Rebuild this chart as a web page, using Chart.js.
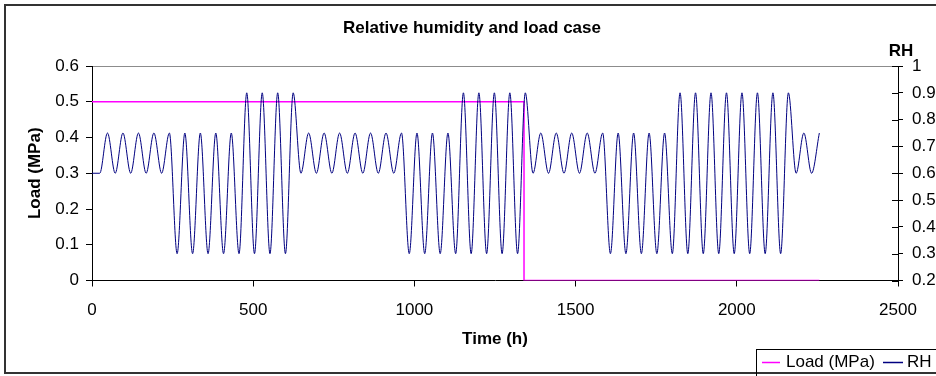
<!DOCTYPE html>
<html>
<head>
<meta charset="utf-8">
<title>Relative humidity and load case</title>
<script src="https://cdn.jsdelivr.net/npm/chart.js@4.4.1/dist/chart.umd.min.js"></script>
<style>
  html, body { margin: 0; padding: 0; background: #fff; }
  #wrap { width: 936px; height: 376px; position: relative; }
</style>
</head>
<body>
<div id="wrap"><canvas id="rhChart"></canvas></div>
<script>
; (function () {
    'use strict'

    // ── Data ───────────────────────────────────────────────────────────────────
    // Load step: 0.5 MPa until ~1340 h, then unloaded
    const loadTime = [0, 1340, 1340, 2256]
    const loadValue = [0.5, 0.5, 0, 0]

    // RH turning points (peaks / troughs of the humidity cycles)
    const rhTime = [
        0, 24, 48, 72, 96, 120, 144, 168, 192, 216, 240,
        264, 288, 312, 336, 360, 384, 408, 432, 456, 480, 504, 528, 552, 576, 600, 624,
        648, 672, 696, 720, 744, 768, 792, 816, 840, 864, 888, 912, 936, 960,
        984, 1008, 1032, 1056, 1080, 1104, 1128, 1152, 1176, 1200, 1224, 1248, 1272, 1296, 1320, 1344,
        1368, 1392, 1416, 1440, 1464, 1488, 1512, 1536, 1560, 1584,
        1608, 1632, 1656, 1680, 1704, 1728, 1752, 1776, 1800, 1824, 1848, 1872, 1896, 1920,
        1944, 1968, 1992, 2016, 2040, 2064, 2088, 2112, 2136, 2160,
        2184, 2208, 2232, 2256
    ]
    const rhValue = [
        0.6, 0.6, 0.75, 0.6, 0.75, 0.6, 0.75, 0.6, 0.75, 0.6, 0.75,
        0.3, 0.75, 0.3, 0.75, 0.3, 0.75, 0.3, 0.75, 0.3, 0.9, 0.3, 0.9, 0.3, 0.9, 0.3, 0.9,
        0.6, 0.75, 0.6, 0.75, 0.6, 0.75, 0.6, 0.75, 0.6, 0.75, 0.6, 0.75, 0.6, 0.75,
        0.3, 0.75, 0.3, 0.75, 0.3, 0.75, 0.3, 0.9, 0.3, 0.9, 0.3, 0.9, 0.3, 0.9, 0.3, 0.9,
        0.6, 0.75, 0.6, 0.75, 0.6, 0.75, 0.6, 0.75, 0.6, 0.75,
        0.3, 0.75, 0.3, 0.75, 0.3, 0.75, 0.3, 0.75, 0.3, 0.9, 0.3, 0.9, 0.3, 0.9,
        0.3, 0.9, 0.3, 0.9, 0.3, 0.9, 0.3, 0.9, 0.3, 0.9,
        0.6, 0.75, 0.6, 0.75
    ]

    const xTicks = [0, 500, 1000, 1500, 2000, 2500]

    // ── Look ───────────────────────────────────────────────────────────────────
    const FONT = 'Liberation Sans, Arial, sans-serif'
    const LOAD_COLOR = '#ff00ff'
    const RH_COLOR = '#000080'

    const toXY = (xs, ys) => xs.map((x, i) => ({ x, y: ys[i] }))
    const fmt = v => String(+Number(v).toFixed(1))

    // ── Extras Chart.js doesn't do out of the box (Excel look) ─────────────────
    const excelDecor = {
        id: 'excelDecor',
        beforeDraw(chart) {
            const { ctx, chartArea: a } = chart
            ctx.save()
            ctx.fillStyle = '#fff'
            ctx.fillRect(0, 0, chart.width, chart.height)
            // grey plot-area frame (top edge is the only part left visible)
            ctx.strokeStyle = '#8c8c8c'
            ctx.lineWidth = 1
            ctx.beginPath()
            ctx.moveTo(a.left, Math.round(a.top) + 0.5)
            ctx.lineTo(a.right, Math.round(a.top) + 0.5)
            ctx.stroke()
            ctx.restore()
        },
        afterDraw(chart) {
            const { ctx, chartArea: a } = chart
            const y1 = chart.scales.y1
            ctx.save()

            // right axis: cross-type tick marks, inner half
            ctx.strokeStyle = '#000'
            ctx.lineWidth = 1
            y1.ticks.forEach(t => {
                const py = Math.round(y1.getPixelForValue(t.value)) + 0.5
                ctx.beginPath()
                ctx.moveTo(a.right - 6, py)
                ctx.lineTo(a.right, py)
                ctx.stroke()
            })

            // title
            ctx.fillStyle = '#000'
            ctx.textAlign = 'center'
            ctx.textBaseline = 'middle'
            ctx.font = `bold 17px ${FONT}`
            ctx.fillText('Relative humidity and load case', 472, 28)

            // secondary axis title
            ctx.fillText('RH', 901, 51)

            // outer chart border
            ctx.strokeStyle = '#333'
            ctx.lineWidth = 2
            ctx.strokeRect(5, 5, 940, 368)

            // legend box
            ctx.strokeStyle = '#000'
            ctx.lineWidth = 1
            ctx.strokeRect(756.5, 349.5, 200, 30)
            ctx.font = `17px ${FONT}`
            ctx.textAlign = 'left'
            const ly = 362
            ctx.lineWidth = 1.5
            ctx.strokeStyle = LOAD_COLOR
            ctx.beginPath(); ctx.moveTo(762, ly + 0.5); ctx.lineTo(780, ly + 0.5); ctx.stroke()
            ctx.fillText('Load (MPa)', 786, ly)
            ctx.strokeStyle = RH_COLOR
            ctx.beginPath(); ctx.moveTo(883, ly + 0.5); ctx.lineTo(903, ly + 0.5); ctx.stroke()
            ctx.fillText('RH', 907, ly)

            ctx.restore()
        }
    }

    // ── Chart ──────────────────────────────────────────────────────────────────
    new Chart(document.getElementById('rhChart'), {
        type: 'line',
        data: {
            datasets: [{
                label: 'RH',
                data: toXY(rhTime, rhValue),
                yAxisID: 'y1',
                borderColor: RH_COLOR,
                borderWidth: 1,
                pointRadius: 0,
                cubicInterpolationMode: 'monotone',
                fill: false,
                order: 0
            }, {
                label: 'Load (MPa)',
                data: toXY(loadTime, loadValue),
                yAxisID: 'y',
                borderColor: LOAD_COLOR,
                borderWidth: 1.5,
                pointRadius: 0,
                tension: 0,
                fill: false,
                order: 1
            }]
        },
        options: {
            responsive: true,
            maintainAspectRatio: false,
            animation: false,
            layout: { padding: { top: 66, left: 0, right: 0, bottom: 0 } },
            plugins: {
                legend: { display: false },
                title: { display: false },
                tooltip: { enabled: false }
            },
            scales: {
                x: {
                    type: 'linear',
                    min: 0, max: 2500,
                    afterBuildTicks: s => { s.ticks = xTicks.map(v => ({ value: v })) },
                    ticks: {
                        color: '#000', padding: 14, maxRotation: 0,
                        font: { family: FONT, size: 17 },
                        callback: v => String(v)
                    },
                    grid: { display: true, drawOnChartArea: false, tickLength: 6, color: '#000' },
                    border: { display: true, color: '#000', width: 1 },
                    title: {
                        display: true, text: 'Time (h)', color: '#000',
                        font: { family: FONT, size: 17, weight: 'bold' },
                        padding: { top: 0, bottom: 26 }
                    },
                    afterFit: s => { s.height = 95.5 }
                },
                y: {
                    position: 'left',
                    min: 0, max: 0.6,
                    ticks: {
                        stepSize: 0.1, color: '#000', padding: 7,
                        font: { family: FONT, size: 17 },
                        callback: fmt
                    },
                    grid: { display: true, drawOnChartArea: false, tickLength: 6, color: '#000' },
                    border: { display: true, color: '#000', width: 1 },
                    title: {
                        display: true, text: 'Load (MPa)', color: '#000',
                        font: { family: FONT, size: 17, weight: 'bold' },
                        padding: { top: 25, bottom: 0 }
                    },
                    afterFit: s => { s.width = 92 }
                },
                y1: {
                    position: 'right',
                    min: 0.2, max: 1,
                    ticks: {
                        stepSize: 0.1, color: '#000', padding: 9,
                        font: { family: FONT, size: 17 },
                        callback: fmt
                    },
                    grid: { display: true, drawOnChartArea: false, tickLength: 5, color: '#000' },
                    border: { display: true, color: '#000', width: 1 },
                    afterFit: s => { s.width = 38 }
                }
            }
        },
        plugins: [excelDecor]
    })
})()
</script>
</body>
</html>
